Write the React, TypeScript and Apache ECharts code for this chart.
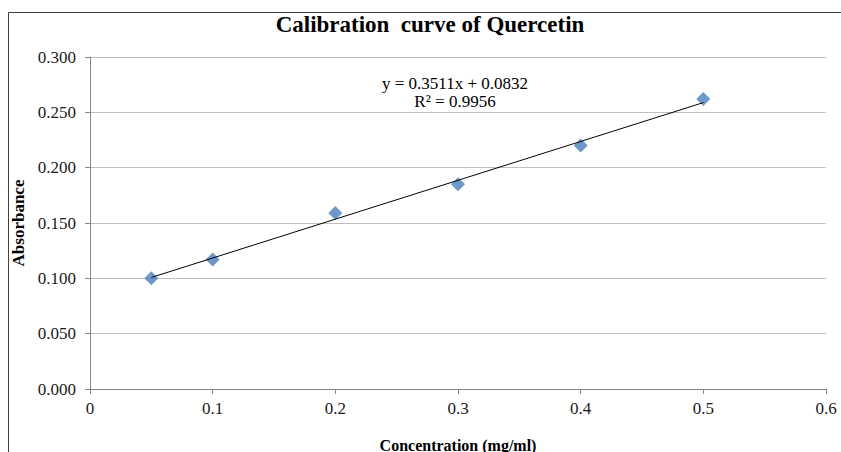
import React, { useEffect, useRef } from "react";
import * as echarts from "echarts";

const concentration = [0.05, 0.1, 0.2, 0.3, 0.4, 0.5];
const absorbance = [0.1, 0.117, 0.159, 0.185, 0.22, 0.262];
const trendX = [0.05, 0.5];
const trendY = [0.1008, 0.2588];
const titleText = "Calibration  curve of Quercetin";
const equationText = "y = 0.3511x + 0.0832";
const r2Text = "R\u00B2 = 0.9956";

const FONT = "Liberation Serif";

export default function App() {
  const ref = useRef<HTMLDivElement>(null);
  useEffect(() => {
    if (!ref.current) return;
    const chart = echarts.init(ref.current, undefined, { renderer: "svg" });
    chart.setOption({
      animation: false,
      backgroundColor: "#ffffff",
      title: {
        text: titleText,
        left: 425,
        textAlign: "center",
        top: 8,
        textStyle: { fontFamily: FONT, fontSize: 23, fontWeight: "bold", color: "#000" },
      },
      grid: { left: 90, right: 15, top: 57, bottom: 63, outerBoundsMode: "none", containLabel: false },
      xAxis: {
        type: "value",
        min: 0,
        max: 0.6,
        interval: 0.1,
        name: "Concentration (mg/ml)",
        nameLocation: "middle",
        nameGap: 48,
        nameTextStyle: { fontFamily: FONT, fontSize: 16, fontWeight: "bold", color: "#000" },
        axisLine: { show: true, lineStyle: { color: "#868686", width: 1 } },
        axisTick: { show: true, length: 5, inside: false, lineStyle: { color: "#868686" } },
        axisLabel: {
          fontFamily: FONT,
          fontSize: 17,
          color: "#1a1a1a",
          margin: 11,
          formatter: (v: number) => (v === 0 ? "0" : String(Math.round(v * 10) / 10)),
        },
        splitLine: { show: false },
      },
      yAxis: {
        type: "value",
        min: 0,
        max: 0.3,
        interval: 0.05,
        name: "Absorbance",
        nameLocation: "middle",
        nameGap: 60,
        nameTextStyle: { fontFamily: FONT, fontSize: 17, fontWeight: "bold", color: "#000" },
        axisLine: { show: true, lineStyle: { color: "#868686", width: 1 } },
        axisTick: { show: true, length: 5, lineStyle: { color: "#868686" } },
        axisLabel: {
          fontFamily: FONT,
          fontSize: 17,
          color: "#1a1a1a",
          margin: 14,
          formatter: (v: number) => v.toFixed(3),
        },
        splitLine: { show: true, lineStyle: { color: "#BFBFBF", width: 1 } },
      },
      graphic: [
        {
          type: "rect",
          shape: { x: 8.5, y: 12.5, width: 1000, height: 1000 },
          style: { fill: "none", stroke: "#404040", lineWidth: 1 },
          silent: true,
        },
        {
          type: "text",
          x: 455,
          y: 83,
          style: {
            text: equationText,
            fontFamily: FONT,
            fontSize: 17,
            fill: "#000",
            textAlign: "center",
            textVerticalAlign: "middle",
          },
        },
        {
          type: "text",
          x: 455,
          y: 101,
          style: {
            text: r2Text,
            fontFamily: FONT,
            fontSize: 17,
            fill: "#000",
            textAlign: "center",
            textVerticalAlign: "middle",
          },
        },
      ],
      series: [
        {
          type: "line",
          data: trendX.map((x, i) => [x, trendY[i]]),
          symbol: "none",
          lineStyle: { color: "#000", width: 1 },
          z: 2,
        },
        {
          type: "scatter",
          data: concentration.map((x, i) => [x, absorbance[i]]),
          symbol: "diamond",
          symbolSize: 14,
          itemStyle: { color: "#4A7EBB" },
          z: 1,
        },
      ],
    });
    return () => chart.dispose();
  }, []);
  return (
    <div
      ref={ref}
      style={{ position: "fixed", left: 0, top: 0, width: 841, height: 452 }}
    />
  );
}
